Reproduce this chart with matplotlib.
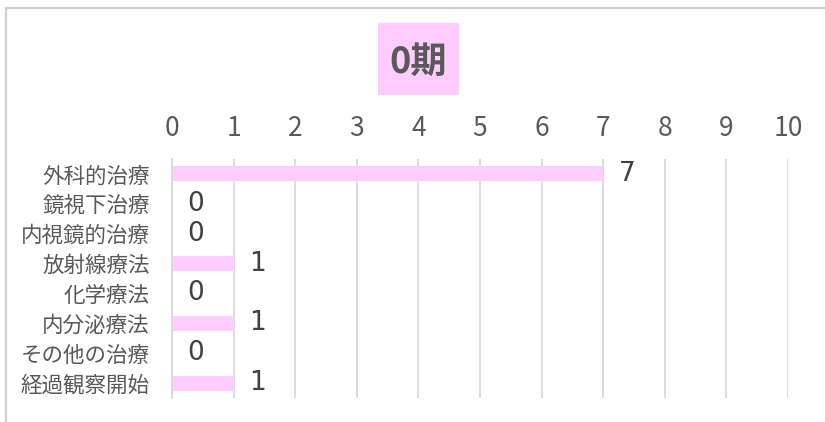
import matplotlib
matplotlib.use("Agg")
import matplotlib.pyplot as plt
from matplotlib.patches import Rectangle
from matplotlib.lines import Line2D

# Data
categories = ["外科的治療", "鏡視下治療", "内視鏡的治療", "放射線療法",
              "化学療法", "内分泌療法", "その他の治療", "経過観察開始"]
counts = [7, 0, 0, 1, 0, 1, 0, 1]
x_ticks = list(range(0, 11))
title = "0期"

text_color = "#595959"
bar_color = "#ffccff"
grid_color = "#d9d9d9"

plt.rcParams["font.family"] = ["Noto Sans CJK JP", "DejaVu Sans"]

W, H = 825, 422
fig = plt.figure(figsize=(W / 100, H / 100), dpi=100)

# Outer chart border (cropped: only top and left visible)
fig.add_artist(Line2D([6 / W, 1], [1 - 8 / H, 1 - 8 / H], color="#d0d0d0", lw=1.6))
fig.add_artist(Line2D([6 / W, 6 / W], [0, 1 - 8 / H], color="#d0d0d0", lw=1.6))

# Title with pink box
fig.add_artist(Rectangle((378 / W, 1 - 95 / H), 81 / W, 72 / H,
                         transform=fig.transFigure, facecolor=bar_color, edgecolor="none"))
fig.text(418 / W, 1 - 62 / H, title, ha="center", va="center",
         fontsize=26, fontweight="bold", color=text_color)

# Plot area
ax = fig.add_axes([172 / W, 1 - 398 / H, (788 - 172) / W, (398 - 159) / H])
ax.barh(range(len(categories)), counts, height=0.5, color=bar_color, zorder=2)
ax.set_xlim(0, 10)
ax.set_ylim(len(categories) - 0.5, -0.5)

ax.set_xticks(x_ticks)
ax.xaxis.tick_top()
ax.tick_params(axis="x", length=0, pad=12, labelsize=19, labelcolor=text_color)
ax.set_yticks(range(len(categories)))
ax.set_yticklabels(categories)
ax.tick_params(axis="y", length=0, pad=16, labelsize=15.5, labelcolor=text_color)

ax.grid(axis="x", color=grid_color, lw=1.3, zorder=1)
for side in ["top", "right", "bottom"]:
    ax.spines[side].set_visible(False)
ax.spines["left"].set_color(grid_color)
ax.spines["left"].set_linewidth(1.3)

# Value labels
for i, v in enumerate(counts):
    ax.annotate(str(v), (v, i), xytext=(11, 0), textcoords="offset points",
                ha="left", va="center", fontsize=19, color="#404040",
                family=["DejaVu Sans"])

fig.savefig("out.png", dpi=100)
